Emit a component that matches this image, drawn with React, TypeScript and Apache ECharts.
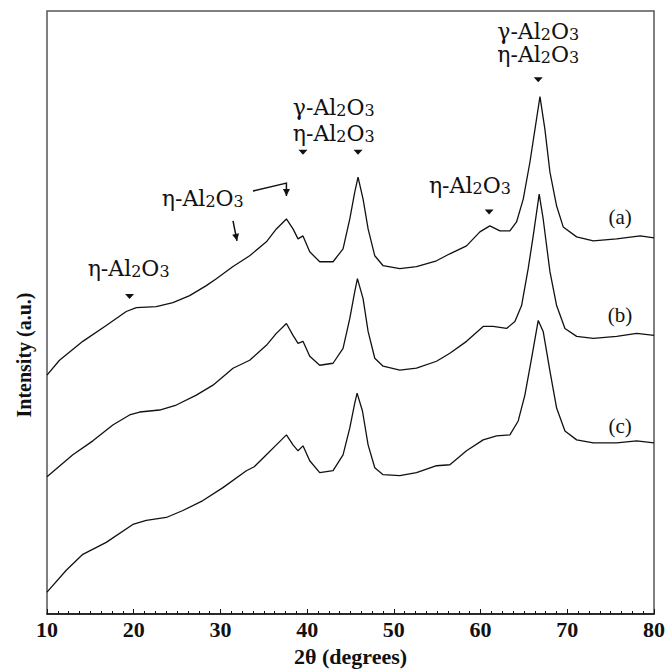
import React, { useEffect, useRef } from 'react';
import * as echarts from 'echarts';

// ---- Data (intensity in arbitrary units) ----
const thetaA = [10.0, 11.44, 14.13, 16.83, 19.14, 20.3, 22.6, 24.52, 26.45, 28.37, 29.53, 31.41, 33.37, 35.3, 36.45, 37.61, 38.37, 38.95, 39.52, 40.3, 41.45, 42.99, 44.14, 44.92, 45.49, 45.87, 46.45, 47.03, 47.8, 48.76, 50.69, 52.61, 54.92, 56.46, 58.38, 59.92, 61.07, 62.23, 63.38, 64.15, 64.92, 65.69, 66.27, 66.85, 67.42, 68.0, 68.77, 69.53, 71.08, 73.0, 75.7, 78.41, 80.0];
const intensityA = [240, 255, 274, 290, 304, 308, 309, 313, 320, 330, 337, 349, 360, 374, 387, 397, 387, 377, 380, 364, 354, 354, 367, 397, 424, 439, 417, 387, 360, 350, 347, 349, 355, 362, 370, 384, 390, 385, 385, 394, 417, 454, 487, 520, 487, 444, 410, 389, 379, 375, 377, 380, 378];

const thetaB = [10.0, 12.98, 15.29, 17.59, 19.52, 20.68, 22.99, 24.91, 27.22, 29.14, 31.45, 33.37, 35.3, 36.45, 37.61, 38.37, 38.95, 39.52, 40.3, 41.45, 42.99, 44.14, 44.92, 45.49, 45.8, 46.45, 47.03, 47.8, 48.76, 50.69, 52.61, 54.92, 56.46, 58.38, 60.3, 61.45, 63.0, 63.96, 64.73, 65.49, 66.07, 66.76, 67.22, 68.0, 68.77, 69.73, 71.08, 73.0, 75.7, 78.0, 80.0];
const intensityB = [138, 160, 174, 190, 200, 203, 205, 210, 220, 230, 247, 255, 270, 282, 292, 280, 272, 274, 259, 250, 252, 267, 297, 324, 337, 317, 284, 257, 249, 245, 247, 254, 262, 274, 289, 289, 287, 294, 310, 347, 380, 422, 397, 344, 310, 287, 279, 277, 279, 282, 280];

const thetaC = [10.0, 12.22, 14.13, 16.83, 19.9, 21.45, 23.76, 25.67, 27.98, 30.29, 32.99, 33.9, 35.3, 36.45, 37.61, 38.37, 38.95, 39.52, 40.3, 41.45, 42.99, 44.14, 44.92, 45.49, 45.76, 46.38, 47.03, 47.8, 48.76, 50.69, 52.61, 54.92, 56.46, 58.38, 60.3, 61.84, 63.38, 64.34, 65.11, 65.88, 66.65, 67.22, 68.0, 68.77, 69.73, 71.08, 73.0, 75.7, 78.0, 80.0];
const intensityC = [22, 44, 60, 72, 90, 94, 97, 104, 114, 127, 144, 148, 160, 170, 180, 170, 164, 169, 154, 142, 144, 160, 187, 212, 222, 204, 170, 147, 140, 139, 142, 149, 150, 164, 175, 179, 180, 194, 220, 257, 295, 284, 244, 207, 184, 175, 172, 172, 174, 172];

const xTickValues = [10, 20, 30, 40, 50, 60, 70, 80];

// ---- Annotations ----
const AL = '{m|-Al}{s|2}{m|O}{s|3}';
const annotationTexts = ['{m|η}' + AL, '{m|γ}' + AL, '{m|η}' + AL, '{m|η}' + AL, '{m|γ}' + AL, '{m|η}' + AL, '{m|η}' + AL];
const annotationDeg = [19.41, 43.07, 43.07, 58.77, 66.65, 66.65, 27.97];
const annotationInt = [347, 509, 483, 431, 585, 562, 418];

const markerDeg = [19.52, 39.52, 45.87, 60.99, 66.65];
const markerInt = [319, 464, 464, 404, 537];

const panelLabels = ['(a)', '(b)', '(c)'];
const panelDeg = [76.09, 76.09, 76.09];
const panelInt = [399, 300, 189];

// arrows: polyline paths in data coords, head at last point
const arrowPaths = [
  [[33.75, 425], [37.61, 433], [37.61, 420]],
  [[31.45, 395], [31.91, 375]],
];

const zip = (xs: number[], ys: number[]) => xs.map((x, i) => [x, ys[i]]);

export default function App() {
  const ref = useRef<HTMLDivElement>(null);

  useEffect(() => {
    if (!ref.current) return;
    const chart = echarts.init(ref.current, null, { renderer: 'svg' });
    const serif = '"Liberation Serif", "Times New Roman", serif';
    const annFont = '"DejaVu Serif", serif';

    chart.setOption({
      animation: false,
      backgroundColor: '#ffffff',
      grid: {
        left: 47,
        right: 14,
        top: 11,
        bottom: 55,
        show: true,
        borderColor: '#555',
        borderWidth: 1.5,
      },
      xAxis: {
        type: 'value',
        min: 10,
        max: 80,
        interval: 10,
        name: '2θ (degrees)',
        nameLocation: 'middle',
        nameGap: 31,
        nameTextStyle: { fontFamily: serif, fontWeight: 'bold', fontSize: 22, color: '#111' },
        axisLine: { show: true, lineStyle: { color: '#111', width: 1.5 } },
        axisTick: { show: true, inside: true, length: 5, lineStyle: { color: '#111', width: 1 } },
        minorTick: { show: true, splitNumber: 8, length: 3, lineStyle: { color: '#111', width: 1 } },
        splitLine: { show: false },
        axisLabel: {
          margin: 4,
          fontFamily: serif,
          fontWeight: 'bold',
          fontSize: 22,
          color: '#111',
          formatter: (v: number) => (xTickValues.includes(v) ? String(v) : ''),
        },
      },
      yAxis: {
        type: 'value',
        min: 0,
        max: 606,
        axisLine: { show: false },
        axisTick: { show: false },
        axisLabel: { show: false },
        splitLine: { show: false },
      },
      series: [
        { name: '(a)', type: 'line', data: zip(thetaA, intensityA), showSymbol: false, lineStyle: { color: '#111', width: 1.3 } },
        { name: '(b)', type: 'line', data: zip(thetaB, intensityB), showSymbol: false, lineStyle: { color: '#111', width: 1.3 } },
        { name: '(c)', type: 'line', data: zip(thetaC, intensityC), showSymbol: false, lineStyle: { color: '#111', width: 1.3 } },
      ],
    });

    const toPx = (p: number[]) => chart.convertToPixel({ xAxisIndex: 0, yAxisIndex: 0 }, p) as number[];
    const graphics: any[] = [];

    annotationTexts.forEach((t, i) => {
      const [x, y] = toPx([annotationDeg[i], annotationInt[i]]);
      graphics.push({
        type: 'text',
        x,
        y,
        style: {
          text: t,
          align: 'center',
          verticalAlign: 'middle',
          textAlign: 'center',
          textVerticalAlign: 'middle',
          fill: '#111',
          rich: {
            m: { fontFamily: annFont, fontSize: 22, fill: '#111', color: '#111' },
            s: { fontFamily: annFont, fontSize: 16, fill: '#111', color: '#111', padding: [6, 0, 0, 0] },
          },
        },
      });
    });

    markerDeg.forEach((d, i) => {
      const [x, y] = toPx([d, markerInt[i]]);
      graphics.push({
        type: 'polygon',
        shape: { points: [[x - 4.5, y - 2.5], [x + 4.5, y - 2.5], [x, y + 2.5]] },
        style: { fill: '#111' },
      });
    });

    arrowPaths.forEach((path) => {
      const pts = path.map(toPx);
      graphics.push({
        type: 'polyline',
        shape: { points: pts },
        style: { stroke: '#111', lineWidth: 1.5, fill: null },
      });
      const tip = pts[pts.length - 1];
      const prev = pts[pts.length - 2];
      const ang = Math.atan2(tip[1] - prev[1], tip[0] - prev[0]);
      const len = 7;
      const w = 3.5;
      const bx = tip[0] - len * Math.cos(ang);
      const by = tip[1] - len * Math.sin(ang);
      const nx = -Math.sin(ang) * w;
      const ny = Math.cos(ang) * w;
      graphics.push({
        type: 'polygon',
        shape: { points: [[tip[0], tip[1]], [bx + nx, by + ny], [bx - nx, by - ny]] },
        style: { fill: '#111' },
      });
    });

    panelLabels.forEach((t, i) => {
      const [x, y] = toPx([panelDeg[i], panelInt[i]]);
      graphics.push({
        type: 'text',
        x,
        y,
        style: {
          text: t,
          font: '21px "Liberation Serif", serif',
          align: 'center',
          verticalAlign: 'middle',
          textAlign: 'center',
          textVerticalAlign: 'middle',
          fill: '#111',
        },
      });
    });

    graphics.push({
      type: 'text',
      x: 24,
      y: 355,
      rotation: Math.PI / 2,
      style: {
        text: 'Intensity (a.u.)',
        font: 'bold 20px "Liberation Serif", serif',
        align: 'center',
        verticalAlign: 'middle',
        textAlign: 'center',
        textVerticalAlign: 'middle',
        fill: '#111',
      },
    });

    chart.setOption({ graphic: { elements: graphics } });

    return () => chart.dispose();
  }, []);

  return (
    <div
      ref={ref}
      style={{ position: 'fixed', left: 0, top: 0, width: 668, height: 672, background: '#fff' }}
    />
  );
}
